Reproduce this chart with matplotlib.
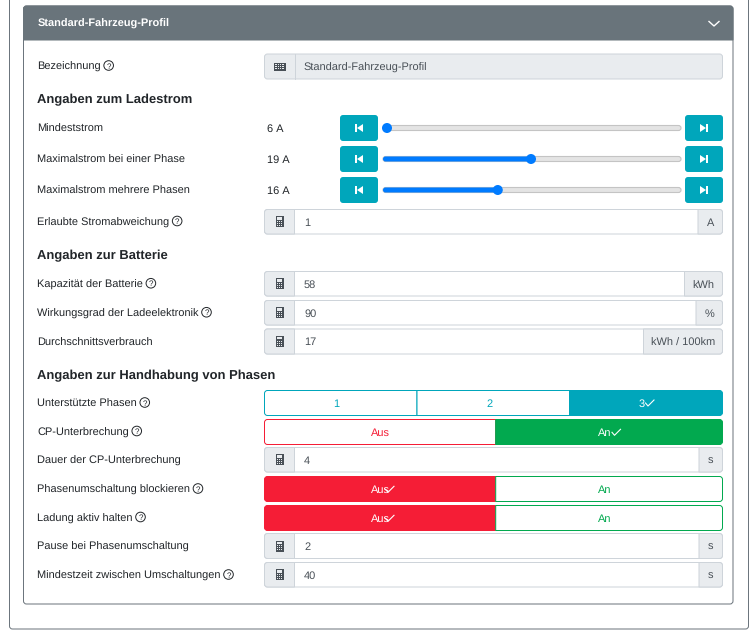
#!/usr/bin/env python3
import matplotlib
matplotlib.use("Agg")
import matplotlib.pyplot as plt
from matplotlib.patches import Circle, PathPatch, Polygon, Rectangle
from matplotlib.path import Path

plt.rcParams['font.family'] = ['Liberation Sans', 'DejaVu Sans']
plt.rcParams['text.hinting'] = 'no_hinting'
plt.rcParams['text.hinting_factor'] = 1

# data
card_title = "Standard-Fahrzeug-Profil"
name_label = "Bezeichnung"
name_value = "Standard-Fahrzeug-Profil"
headings = ["Angaben zum Ladestrom", "Angaben zur Batterie", "Angaben zur Handhabung von Phasen"]

slider_labels = ["Mindeststrom", "Maximalstrom bei einer Phase", "Maximalstrom mehrere Phasen"]
slider_values = [6, 19, 16]
slider_unit = "A"
slider_min = 6
slider_max = 32

tolerance_label = "Erlaubte Stromabweichung"
tolerance_value = "1"
tolerance_unit = "A"

battery_labels = ["Kapazität der Batterie", "Wirkungsgrad der Ladeelektronik", "Durchschnittsverbrauch"]
battery_values = ["58", "90", "17"]
battery_units = ["kWh", "%", "kWh / 100km"]
battery_help = [True, True, False]

phase_label = "Unterstützte Phasen"
phase_options = ["1", "2", "3"]
phase_selected = "3"

cp_label = "CP-Unterbrechung"
cp_selected = "An"
cp_time_label = "Dauer der CP-Unterbrechung"
cp_time_value = "4"
block_label = "Phasenumschaltung blockieren"
block_selected = "Aus"
keep_label = "Ladung aktiv halten"
keep_selected = "Aus"
pause_label = "Pause bei Phasenumschaltung"
pause_value = "2"
min_time_label = "Mindestzeit zwischen Umschaltungen"
min_time_value = "40"
time_unit = "s"

# colours
GREY = "#6c757d"
HEAD = "#69747b"
TEXT = "#212529"
INPUT = "#495057"
LINE = "#ced4da"
ADDON = "#e9ecef"
TEAL = "#00a6bb"
BLUE = "#007bff"
RED = "#f51d36"
GREEN = "#02a94f"

FS = 7.6
HEAD_FS = 9.6
LEFT = 37
X0, X1 = 264.5, 722.5
PX = 0.72  # one pixel line width

fig = plt.figure(figsize=(7.55, 6.31), dpi=100)
ax = fig.add_axes([0, 0, 1, 1])
ax.set_xlim(0, 755)
ax.set_ylim(631, 0)
ax.axis("off")


def box(x0, y0, x1, y1, fc="white", ec="none", lw=PX, r=(3, 3, 3, 3), z=2):
    # r: radius top-left, top-right, bottom-right, bottom-left
    tl, tr, br, bl = r
    verts = [(x0 + tl, y0), (x1 - tr, y0), (x1, y0), (x1, y0 + tr), (x1, y1 - br), (x1, y1),
             (x1 - br, y1), (x0 + bl, y1), (x0, y1), (x0, y1 - bl), (x0, y0 + tl), (x0, y0),
             (x0 + tl, y0), (x0 + tl, y0)]
    codes = [Path.MOVETO, Path.LINETO, Path.CURVE3, Path.CURVE3, Path.LINETO, Path.CURVE3,
             Path.CURVE3, Path.LINETO, Path.CURVE3, Path.CURVE3, Path.LINETO, Path.CURVE3,
             Path.CURVE3, Path.CLOSEPOLY]
    ax.add_patch(PathPatch(Path(verts, codes), fc=fc, ec=ec, lw=lw, zorder=z))


def txt(x, y, s, color=TEXT, size=FS, ha="left", weight="normal"):
    return ax.text(x, y, s, color=color, fontsize=size, ha=ha, va="center_baseline",
                   fontweight=weight, zorder=6)


def check(x, y, color="white"):
    ax.plot([x, x + 2.5, x + 8.5], [y, y + 3, y - 3], color=color, lw=0.8, zorder=6)


def label(y, s, help_icon=False):
    t = txt(LEFT, y, s)
    if help_icon:
        bb = t.get_window_extent(fig.canvas.get_renderer())
        cx = bb.x1 + 8
        ax.add_patch(Circle((cx, y - 0.5), 4.8, fc="white", ec=TEXT, lw=0.7, zorder=6))
        txt(cx, y - 0.3, "?", size=6, ha="center")


def calculator(cx, cy):
    ax.add_patch(Rectangle((cx - 4, cy - 5.5), 8, 11, fc=INPUT, ec="none", zorder=6))
    ax.add_patch(Rectangle((cx - 2.8, cy - 4.3), 5.6, 2.2, fc=ADDON, ec="none", zorder=7))
    for dy in (-0.8, 1.1, 3):
        for dx in (-2.8, -0.7, 1.4):
            ax.add_patch(Rectangle((cx + dx, cy + dy), 1.3, 1.2, fc=ADDON, ec="none", zorder=7))


def keyboard(cx, cy):
    ax.add_patch(Rectangle((cx - 6, cy - 4), 12, 8, fc=INPUT, ec="none", zorder=6))
    for dy in (-2.8, -0.7, 1.4):
        for i in range(6):
            ax.add_patch(Rectangle((cx - 5 + i * 1.75, cy + dy), 1, 1.1, fc=ADDON, ec="none", zorder=7))


def number_row(y0, y1, value, unit=None, unit_x=None):
    # input group with calculator icon and optional unit
    box(X0, y0, X1, y1, fc="white", ec=LINE)
    box(X0, y0, 294.5, y1, fc=ADDON, ec=LINE, r=(3, 0, 0, 3))
    calculator(279.5, (y0 + y1) / 2)
    txt(304, (y0 + y1) / 2, value, color=INPUT)
    if unit:
        box(unit_x, y0, X1, y1, fc=ADDON, ec=LINE, r=(0, 3, 3, 0))
        txt((unit_x + X1) / 2, (y0 + y1) / 2, unit, color=INPUT, ha="center")


def skip_button(x0, y0, y1, direction):
    box(x0, y0, x0 + 38, y1, fc=TEAL)
    cx, cy = x0 + 19, (y0 + y1) / 2
    if direction < 0:
        ax.add_patch(Rectangle((cx - 4, cy - 4), 2, 8, fc="white", ec="none", zorder=6))
        ax.add_patch(Polygon([(cx + 4, cy - 4), (cx + 4, cy + 4), (cx - 2, cy)], fc="white", ec="none", zorder=6))
    else:
        ax.add_patch(Rectangle((cx + 2, cy - 4), 2, 8, fc="white", ec="none", zorder=6))
        ax.add_patch(Polygon([(cx - 4, cy - 4), (cx - 4, cy + 4), (cx + 2, cy)], fc="white", ec="none", zorder=6))


def slider_row(y0, y1, name, value):
    y = (y0 + y1) / 2
    label(y - 0.5, name)
    txt(267, y, f"{value} {slider_unit}")
    skip_button(340, y0, y1, -1)
    skip_button(685, y0, y1, 1)
    thumb = 387 + (value - slider_min) / (slider_max - slider_min) * (675 - 387)
    box(383, y - 2.5, 681, y + 2.5, fc="#e4e4e4", ec="#c4c4c4", lw=0.8, r=(2.5, 2.5, 2.5, 2.5))
    if value > slider_min:
        box(383, y - 2.5, thumb, y + 2.5, fc=BLUE, ec="none", r=(2.5, 0, 0, 2.5), z=3)
    ax.add_patch(Circle((thumb, y), 5, fc=BLUE, ec="none", zorder=4))


def onoff_row(y0, y1, selected):
    mid = 495.7
    on = selected == "An"
    ym = (y0 + y1) / 2
    if on:
        box(X0, y0, mid, y1, fc="white", ec=RED, r=(3, 0, 0, 3))
        box(mid, y0, X1, y1, fc=GREEN, ec=GREEN, r=(0, 3, 3, 0))
        txt((X0 + mid) / 2, ym, "Aus", color=RED, ha="center")
        txt(605, ym, "An", color="white", ha="center")
        check(612, ym + 0.3)
    else:
        box(X0, y0, mid, y1, fc=RED, ec=RED, r=(3, 0, 0, 3))
        box(mid, y0, X1, y1, fc="white", ec=GREEN, r=(0, 3, 3, 0))
        txt((X0 + mid) / 2, ym, "Aus", color="white", ha="center")
        check(385.5, ym + 0.3)
        txt(605, ym, "An", color=GREEN, ha="center")


# outer and inner card
box(9.5, -10, 748.5, 629, fc="white", ec=GREY, z=0.5)
box(23.5, 6, 733, 604, fc="white", ec=GREY, z=1)
box(23.5, 6, 733, 40, fc=HEAD, ec=HEAD, r=(3, 3, 0, 0))
txt(38, 23, card_title, color="white", weight="bold")
ax.plot([709, 714, 719], [21.5, 26, 21.5], color="white", lw=1.0, zorder=6)

# name row
label(66, name_label, True)
box(X0, 54, X1, 79, fc=ADDON, ec=LINE)
ax.plot([294.5, 294.5], [54, 79], color=LINE, lw=PX, zorder=3)
keyboard(279.5, 66.5)
txt(304, 66.5, name_value, color=INPUT)

# Ladestrom
txt(LEFT, 98.5, headings[0], size=HEAD_FS, weight="bold")
for (y0, y1), name, value in zip([(115, 141), (146, 172), (177, 203)], slider_labels, slider_values):
    slider_row(y0, y1, name, value)
label(221.5, tolerance_label, True)
number_row(209.5, 234, tolerance_value, tolerance_unit, 698)

# Batterie
txt(LEFT, 254.5, headings[1], size=HEAD_FS, weight="bold")
for (y0, y1), name, value, unit, ux, hlp in zip([(271.5, 296), (300.5, 325), (329, 354)], battery_labels,
                                               battery_values, battery_units, [684.5, 696, 643.5], battery_help):
    label((y0 + y1) / 2, name, hlp)
    number_row(y0, y1, value, unit, ux)

# Phasen
txt(LEFT, 374.5, headings[2], size=HEAD_FS, weight="bold")
label(403, phase_label, True)
edges = [X0, 417, 569.5, X1]
for i, opt in enumerate(phase_options):
    r = (3, 0, 0, 3) if i == 0 else (0, 3, 3, 0) if i == 2 else (0, 0, 0, 0)
    sel = opt == phase_selected
    box(edges[i], 390.5, edges[i + 1], 415.5, fc=TEAL if sel else "white", ec=TEAL, r=r)
    cx = (edges[i] + edges[i + 1]) / 2
    txt(cx - (5 if i == 0 else 4), 403, opt, color="white" if sel else TEAL, ha="center")
    if sel:
        check(cx - 0.5, 403)

label(431.5, cp_label, True)
onoff_row(419.5, 444.5, cp_selected)
label(460, cp_time_label)
number_row(447.5, 472, cp_time_value, time_unit, 699)
label(489, block_label, True)
onoff_row(476.5, 501.5, block_selected)
label(517.5, keep_label, True)
onoff_row(505.5, 530.5, keep_selected)
label(546, pause_label)
number_row(533.5, 558.5, pause_value, time_unit, 699)
label(575, min_time_label, True)
number_row(562.5, 587, min_time_value, time_unit, 699)

fig.savefig("out.png", dpi=100)
plt.close(fig)
